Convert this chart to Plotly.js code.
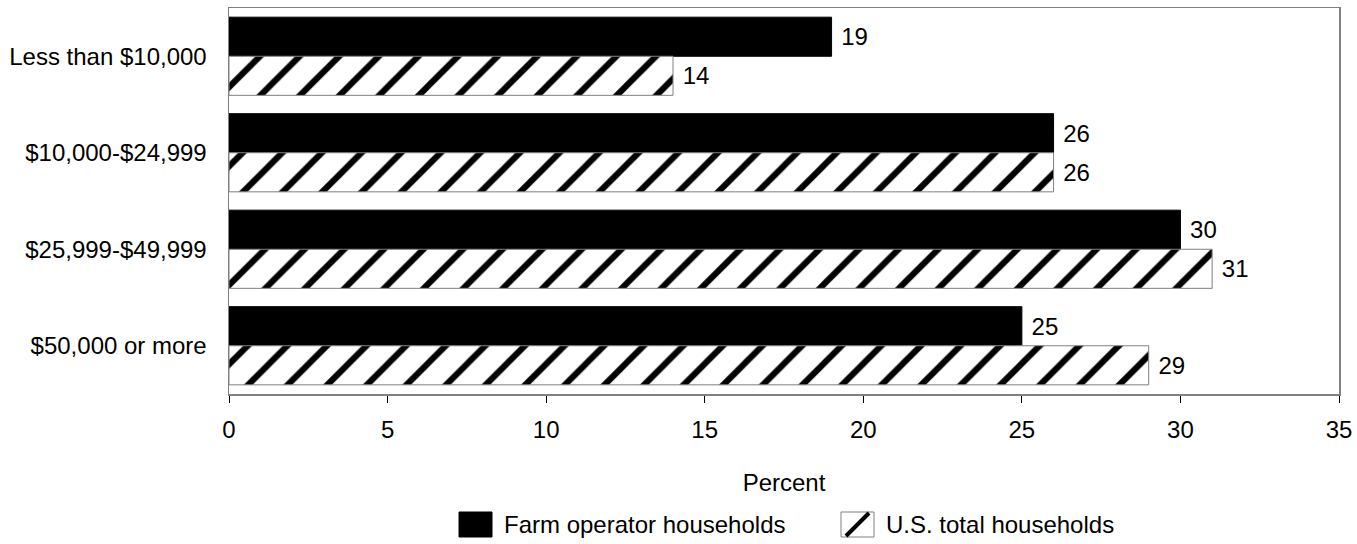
<!DOCTYPE html>
<html><head><meta charset="utf-8">
<script src="https://cdn.plot.ly/plotly-3.0.1.min.js"></script>
<style>html,body{margin:0;padding:0;background:#fff}#chart{width:1357px;height:544px}</style>
</head><body><div id="chart"></div>
<script>
const categories = ["Less than $10,000", "$10,000-$24,999", "$25,999-$49,999", "$50,000 or more"];
const farmOperator = [19, 26, 30, 25];
const usTotal = [14, 26, 31, 29];
const seriesNames = ["Farm operator households", "U.S. total households"];
const xTicks = [0, 5, 10, 15, 20, 25, 30, 35];

const W = 1357, H = 544;
const M = {l: 229, r: 18, t: 8, b: 150};
const plotW = W - M.l - M.r, plotH = H - M.t - M.b;
const px = x => (x - M.l) / plotW;           // pixel -> paper x
const py = y => (H - M.b - y) / plotH;        // pixel -> paper y

const font = {family: "Liberation Sans, Arial, sans-serif", size: 24, color: "#000"};

const traces = [
  {type: "bar", orientation: "h", name: seriesNames[0], y: categories, x: farmOperator,
   text: farmOperator.map(v => "\u00a0" + v), textposition: "outside", cliponaxis: false,
   textfont: font, showlegend: false,
   marker: {color: "#000", line: {color: "#000", width: 1}}},
  {type: "bar", orientation: "h", name: seriesNames[1], y: categories, x: usTotal,
   text: usTotal.map(v => "\u00a0" + v), textposition: "outside", cliponaxis: false,
   textfont: font, showlegend: false,
   marker: {color: "#fff", line: {color: "#808080", width: 1},
            pattern: {shape: "/", fgcolor: "#000", bgcolor: "#fff", size: 28, solidity: 0.22}}}
];

// custom legend (larger swatches as in the reference)
const sw = [{x: 459, fill: "#000", line: "#000"}, {x: 841, fill: "#fff", line: "#808080"}];
const swTop = 512, swBot = 537, swW = 33;
const shapes = [];
sw.forEach(s => {
  shapes.push({type: "rect", xref: "paper", yref: "paper",
    x0: px(s.x), x1: px(s.x + swW), y0: py(swBot), y1: py(swTop),
    fillcolor: s.fill, line: {color: s.line, width: 1}});
});
shapes.push({type: "line", xref: "paper", yref: "paper",
  x0: px(sw[1].x + 5), y0: py(swBot - 1), x1: px(sw[1].x + swW - 5), y1: py(swTop + 1),
  line: {color: "#000", width: 4}});
const annotations = seriesNames.map((n, i) => ({
  text: n, xref: "paper", yref: "paper", x: px(sw[i].x + swW + 10), y: py((swTop + swBot) / 2),
  xanchor: "left", yanchor: "middle", showarrow: false, font: font}));

const layout = {
  width: W, height: H,
  margin: Object.assign({autoexpand: false}, M),
  paper_bgcolor: "#fff", plot_bgcolor: "#fff",
  font: font,
  barmode: "group", bargap: 0.19, bargroupgap: 0,
  showlegend: false,
  shapes: shapes, annotations: annotations,
  xaxis: {range: [0, 35], tickvals: xTicks, ticktext: xTicks.map(String),
          showgrid: false, zeroline: false, showline: true, linecolor: "#808080", linewidth: 1.5,
          ticks: "outside", ticklen: 7, tickcolor: "#000", tickwidth: 1, mirror: true,
          ticklabelstandoff: 7,
          tickfont: font, title: {text: "\u00a0\u00a0\u00a0Percent", font: font, standoff: 32}},
  yaxis: {autorange: "reversed", showgrid: false, zeroline: false, showline: true,
          linecolor: "#808080", linewidth: 1.5, mirror: true, ticks: "",
          tickfont: font, ticklabelstandoff: 16}
};

Plotly.newPlot("chart", traces, layout, {displayModeBar: false, staticPlot: true});
</script></body></html>
